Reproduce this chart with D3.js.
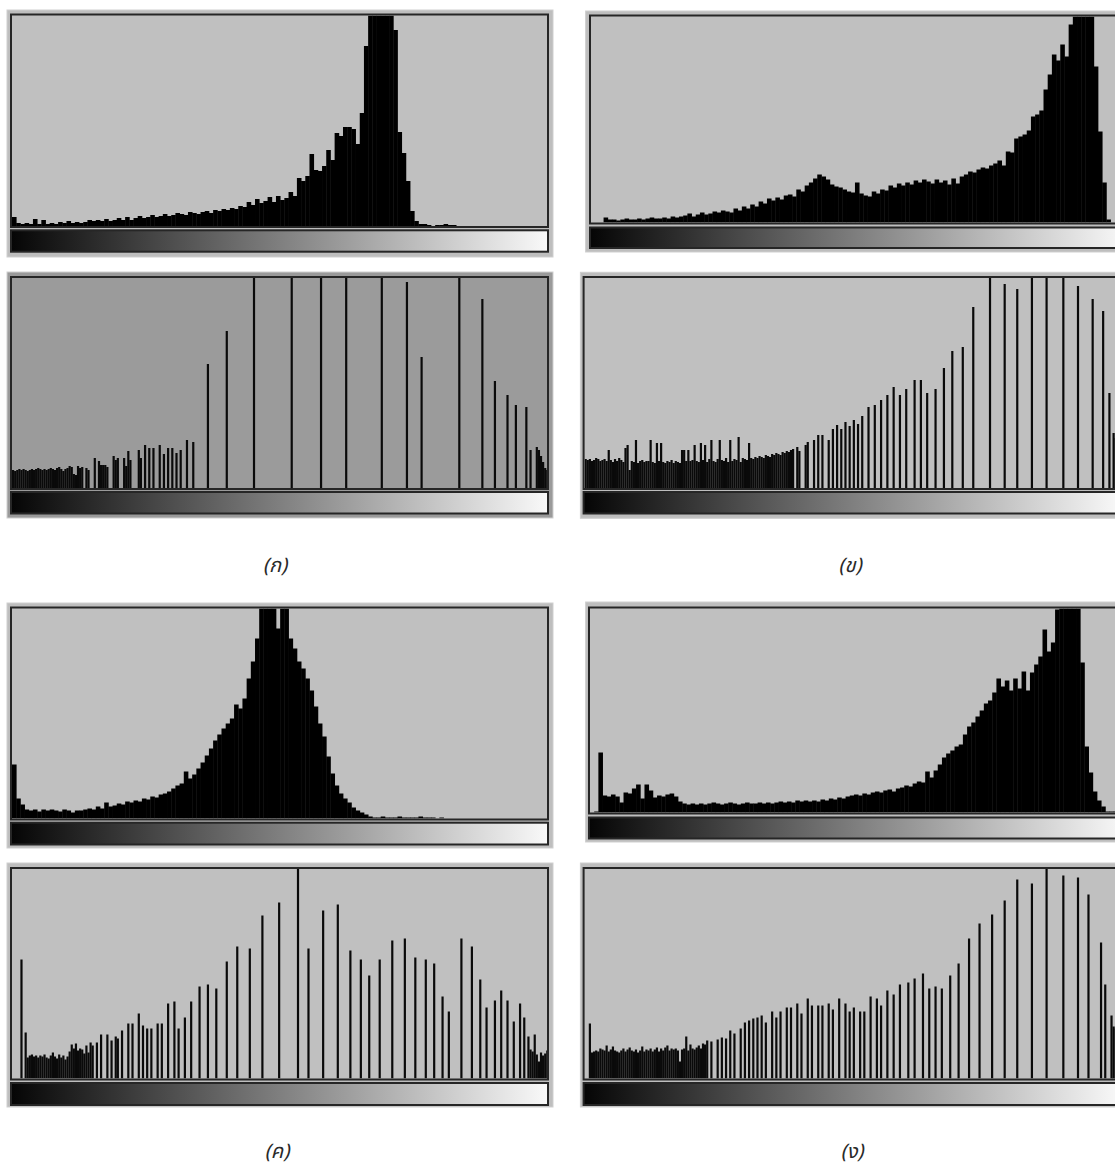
<!DOCTYPE html>
<html><head><meta charset="utf-8">
<script src="https://cdn.jsdelivr.net/npm/d3@7"></script>
<style>html,body{margin:0;padding:0;background:#fff;} svg{display:block;}</style>
</head><body>
<svg id="c" width="1115" height="1166"></svg>
<script>
// ---------- DATA ----------
// Original histograms: 128 bins each (heights in plot units)
const histA1 = [9,
 3,2,3,2,7,2,6,2,3,2,4,3,5,3,4,3,4,6,
 5,6,5,7,5,6,8,6,9,
 6,8,10,8,9,11,9,10,12,10,
 11,13,12,11,14,13,12,14,15,13,
 16,15,17,16,18,17,20,19,24,21,
 27,23,25,29,24,30,26,28,34,30,
 48,45,50,72,56,55,60,76,66,93,
 90,99,99,97,82,113,180,230,230,230,
 230,230,230,196,94,73,45,15,5,2,
 2,1,0,1,1,2,1,1,0,0,
 0,0,0,0,0,0,0,0,0,0,0,0,0,0,0,0,0,0,0,0];
const histB1 = [0,0,0,5,
 3,3,2,3,4,3,3,4,3,4,5,4,4,5,4,6,5,
 6,
 7,9,6,8,10,8,9,11,10,12,11,10,14,12,16,
 14,18,16,21,19,24,22,25,23,27,28,26,
 33,31,37,40,44,48,46,43,38,36,
 35,33,31,30,40,29,27,26,31,29,
 33,32,37,35,39,37,40,38,42,40,
 43,41,39,43,40,42,38,44,39,46,
 48,51,50,53,55,54,57,59,62,57,
 71,70,84,86,88,92,106,108,112,133,
 148,168,162,178,166,198,230,230,230,230,
 230,156,91,40,3,0,0,0,0];
const histC1 = [54,20,14,9,
 8,9,7,9,8,9,8,7,9,8,6,8,8,
 9,10,9,12,10,16,12,13,15,14,17,
 16,18,17,20,19,22,21,24,25,27,
 30,33,35,47,40,44,50,56,63,70,
 78,84,90,95,100,114,110,120,140,157,
 180,230,230,230,230,190,230,230,180,170,
 157,150,140,128,112,95,82,62,45,33,
 25,20,16,11,8,6,4,2,
 1,1,2,1,1,1,2,1,1,1,1,2,1,1,1,0,1,
 0,0,0,0,0,0,0,0,0,0,0,0,0,0,0,0,0,0,0,0,0,0,0,0,0];
const histD1 = [0,1,60,
 17,16,18,16,10,
 20,19,24,28,
 14,28,22,15,17,16,18,19,16,11,
 9,8,9,8,9,8,9,10,9,8,9,10,9,8,9,10,9,9,10,9,10,9,10,11,10,11,10,12,11,12,11,
 12,11,13,12,14,13,15,14,16,17,18,
 17,19,18,20,21,20,22,23,21,24,
 25,27,26,29,31,30,41,35,42,48,
 55,59,62,66,68,78,86,90,96,102,
 109,112,120,134,126,132,122,134,124,141,
 122,140,148,156,183,161,170,203,230,230,
 230,230,230,150,66,40,21,12,6,1,
 1,1,1,1];

// Equalized histograms: 256 grey levels; a dense run starting at level 0 plus isolated levels
const denseA2 = [18,17,18,19,18,19,18,17,18,19,18,19,20,19,18,19,18,19,20,19,
 18,20,21,19,17,19,20,22,21,14,13,22,20,21];
const levelsA2 = [35,36,39,41,42,43,44,45,48,49,50,53,54,55,56,60,61,63,65,67,70,72,74,76,78,80,83,86,
 93,102,115,133,147,159,176,188,195,213,224,230,236,240,245,247,250,251,252,253,254,255];
const heightsA2 = [20,18,30,27,23,23,23,21,32,28,30,30,22,37,28,38,30,43,40,40,43,34,40,40,35,38,48,46,
 124,157,230,230,230,230,230,206,131,230,189,107,93,83,81,38,41,38,32,26,20,18];

const denseB2 = [29,28,29,27,28,30,29,27,28,29,
 27,38,28,26,29,27,30,28,26,40,
 43,18,27,26,48,25,27,28,26,27,
 27,48,26,25,45,27,45,26,25,27,
 26,28,25,27,26,25,38,38,27,38,
 27,28,43,27,26,45,28,43,26,29,
 48,27,26,29,48,28,27,30,26,48,
 27,29,28,51,26,30,29,28,45,30,
 29,31,30,32,31,30,33,32,31,34,
 33,35,34,33,36,35,37,36,38];
const levelsB2 = [99,101,102,105,106,109,111,113,116,118,120,122,124,126,128,130,132,135,138,141,144,147,150,
 153,157,160,163,167,171,175,180,185,193,200,206,213,220,228,235,242,247,250,252,253,254,255];
const heightsB2 = [39,41,37,43,46,48,53,53,48,59,63,59,66,62,68,64,72,81,83,88,93,101,93,
 99,108,108,95,99,120,137,141,181,230,204,199,230,230,230,202,189,177,95,55,50,52,48];

const denseC2 = [0,0,0,0,119,0,46,
 21,23,24,22,23,21,23,22,24,21,20,23,26,22,20,24,21,23,19,22,27,
 34,30,35,28,30,29,25,33,26,36,33];
const levelsC2 = [40,42,45,47,49,50,52,55,57,60,62,64,66,69,71,74,77,79,82,85,
 89,93,97,102,107,113,119,127,136,141,148,155,161,166,170,175,181,187,192,197,
 201,205,208,214,219,223,226,230,233,236,239,242,244,246,247,248,249,250,251,252,253,254,255];
const heightsC2 = [36,44,44,38,42,40,48,55,55,65,53,50,50,55,55,75,77,50,61,77,
 92,94,90,117,132,130,163,176,230,130,168,174,128,119,103,119,138,140,121,119,
 115,82,67,140,132,99,71,78,88,78,57,75,61,42,29,27,44,24,17,26,23,25,28];

const denseD2 = [0,0,55,
 26,27,28,27,30,29,28,33,27,29,
 32,28,27,26,28,30,27,29,31,28,
 27,29,26,28,32,27,29,28,30,27,
 29,31,27,30,28,31,33,28,30,29,
 30,28,17,29,30,42,28,34,30,29,
 31,33,30,35,34];
const levelsD2 = [58,60,63,65,67,69,71,74,76,78,80,82,84,86,89,91,93,96,98,101,
 103,106,108,111,113,116,118,121,124,126,128,131,133,136,139,141,144,147,150,154,
 157,161,164,167,170,174,178,183,188,194,200,206,213,220,228,235,240,246,248,251,252,253,254,255];
const heightsD2 = [38,37,39,41,40,48,45,50,56,58,60,61,63,56,67,61,67,71,71,75,
 65,80,73,73,73,75,69,80,75,67,71,67,67,82,80,73,88,84,94,96,
 100,105,90,92,90,103,115,140,155,164,178,199,195,230,203,201,184,136,94,63,52,50,45,48];

const captions = ["(ก)", "(ข)", "(ค)", "(ง)"];

// ---------- LAYOUT ----------
const panels = [
 {kind:"orig", hist:histA1, ox:7, oy:10, ow:546, oh:247, bl:11, bt:14.5, bb:227, gt:230.3, gb:251.7, x0:12, bg:"#c0c0c0", frame:"#bebebe"},
 {kind:"eq", dense:denseA2, levels:levelsA2, heights:heightsA2, ox:7, oy:272, ow:546, oh:246, bl:11, bt:277, bb:489, gt:492, gb:513.5, x0:12, bg:"#9b9b9b", frame:"#9a9a9a"},
 {kind:"orig", hist:histC1, ox:7, oy:603, ow:546, oh:245, bl:11, bt:607.5, bb:819.5, gt:822.7, gb:844.5, x0:12, bg:"#c0c0c0", frame:"#bebebe"},
 {kind:"eq", dense:denseC2, levels:levelsC2, heights:heightsC2, ox:7, oy:863, ow:546, oh:244, bl:11, bt:868, bb:1079.5, gt:1083, gb:1105, x0:12, bg:"#c0c0c0", frame:"#bebebe"},
 {kind:"orig", hist:histB1, ox:585.6, oy:11, ow:546, oh:241, bl:590, bt:15.5, bb:223.5, gt:227.5, gb:248, x0:591, bg:"#c0c0c0", frame:"#bebebe"},
 {kind:"eq", dense:denseB2, levels:levelsB2, heights:heightsB2, ox:580.4, oy:272.3, ow:546, oh:246, bl:583.6, bt:277, bb:489, gt:492, gb:513.5, x0:584.6, bg:"#c0c0c0", frame:"#bebebe"},
 {kind:"orig", hist:histD1, ox:585.6, oy:602, ow:546, oh:240, bl:589, bt:607.5, bb:813.5, gt:817.5, gb:838.5, x0:590, bg:"#c0c0c0", frame:"#bebebe"},
 {kind:"eq", dense:denseD2, levels:levelsD2, heights:heightsD2, ox:580.4, oy:863, ow:546, oh:244, bl:583.6, bt:868, bb:1079.5, gt:1083, gb:1105, x0:584.6, bg:"#c0c0c0", frame:"#bebebe"}
];
const captionPos = [[275,572],[850,572],[277,1158],[852,1158]];

// ---------- DRAW ----------
const svg = d3.select("#c");
const defs = svg.append("defs");
const grad = defs.append("linearGradient").attr("id","greyramp")
  .attr("x1","0%").attr("x2","100%").attr("y1","0%").attr("y2","0%");
grad.append("stop").attr("offset","0%").attr("stop-color","#050505");
grad.append("stop").attr("offset","100%").attr("stop-color","#f9f9f9");

const PW = 537;
panels.forEach((p, i) => {
  const g = svg.append("g").attr("class","panel");
  g.append("rect").attr("x",p.ox).attr("y",p.oy).attr("width",p.ow).attr("height",p.oh)
    .attr("fill",p.frame).attr("stroke","#cfcfcf").attr("stroke-width",1);
  g.append("rect").attr("x",p.bl).attr("y",p.bt).attr("width",PW).attr("height",p.bb-p.bt).attr("fill",p.bg);
  const top = p.bt + 1, base = p.bb - 1;
  const y = d3.scaleLinear().domain([0, base - top]).range([base, top]).clamp(true);
  const cid = "clip" + i;
  defs.append("clipPath").attr("id",cid).append("rect")
    .attr("x",p.bl+1).attr("y",top).attr("width",PW-2).attr("height",base-top);
  const gb = g.append("g").attr("clip-path","url(#"+cid+")");
  if (p.kind === "orig") {
    const x = d3.scaleLinear().domain([0, p.hist.length]).range([p.x0, p.x0 + 536.3]);
    gb.selectAll("rect").data(p.hist).join("rect")
      .attr("x",(d,k)=>x(k)).attr("width",(d,k)=>x(k+1)-x(k)+0.4)
      .attr("y",d=>y(d)).attr("height",d=>base - y(d)).attr("fill","#000");
  } else {
    const x = d3.scaleLinear().domain([0, 256]).range([p.x0, p.x0 + 536.3]);
    const bars = p.dense.map((h,k)=>({l:k, h:h})).concat(p.levels.map((l,k)=>({l:l, h:p.heights[k]})));
    gb.selectAll("rect").data(bars).join("rect")
      .attr("x",d=>x(d.l)).attr("width",d=>x(d.l+1)-x(d.l)+0.1)
      .attr("y",d=>y(d.h)).attr("height",d=>base - y(d.h)).attr("fill","#0a0a0a");
  }
  g.append("rect").attr("x",p.bl).attr("y",p.bt).attr("width",PW).attr("height",p.bb-p.bt)
    .attr("fill","none").attr("stroke","#262626").attr("stroke-width",2);
  g.append("rect").attr("x",p.bl).attr("y",p.gt).attr("width",PW).attr("height",p.gb-p.gt)
    .attr("fill","url(#greyramp)").attr("stroke","#262626").attr("stroke-width",2);
});

svg.selectAll("text.cap").data(captions).join("text").attr("class","cap")
  .attr("x",(d,i)=>captionPos[i][0]).attr("y",(d,i)=>captionPos[i][1])
  .attr("text-anchor","middle")
  .style("font-family","'Noto Sans Thai','Noto Sans','DejaVu Sans',sans-serif")
  .style("font-style","italic").style("font-size","20px").attr("fill","#2a2a2a")
  .text(d=>d);
</script>
</body></html>
